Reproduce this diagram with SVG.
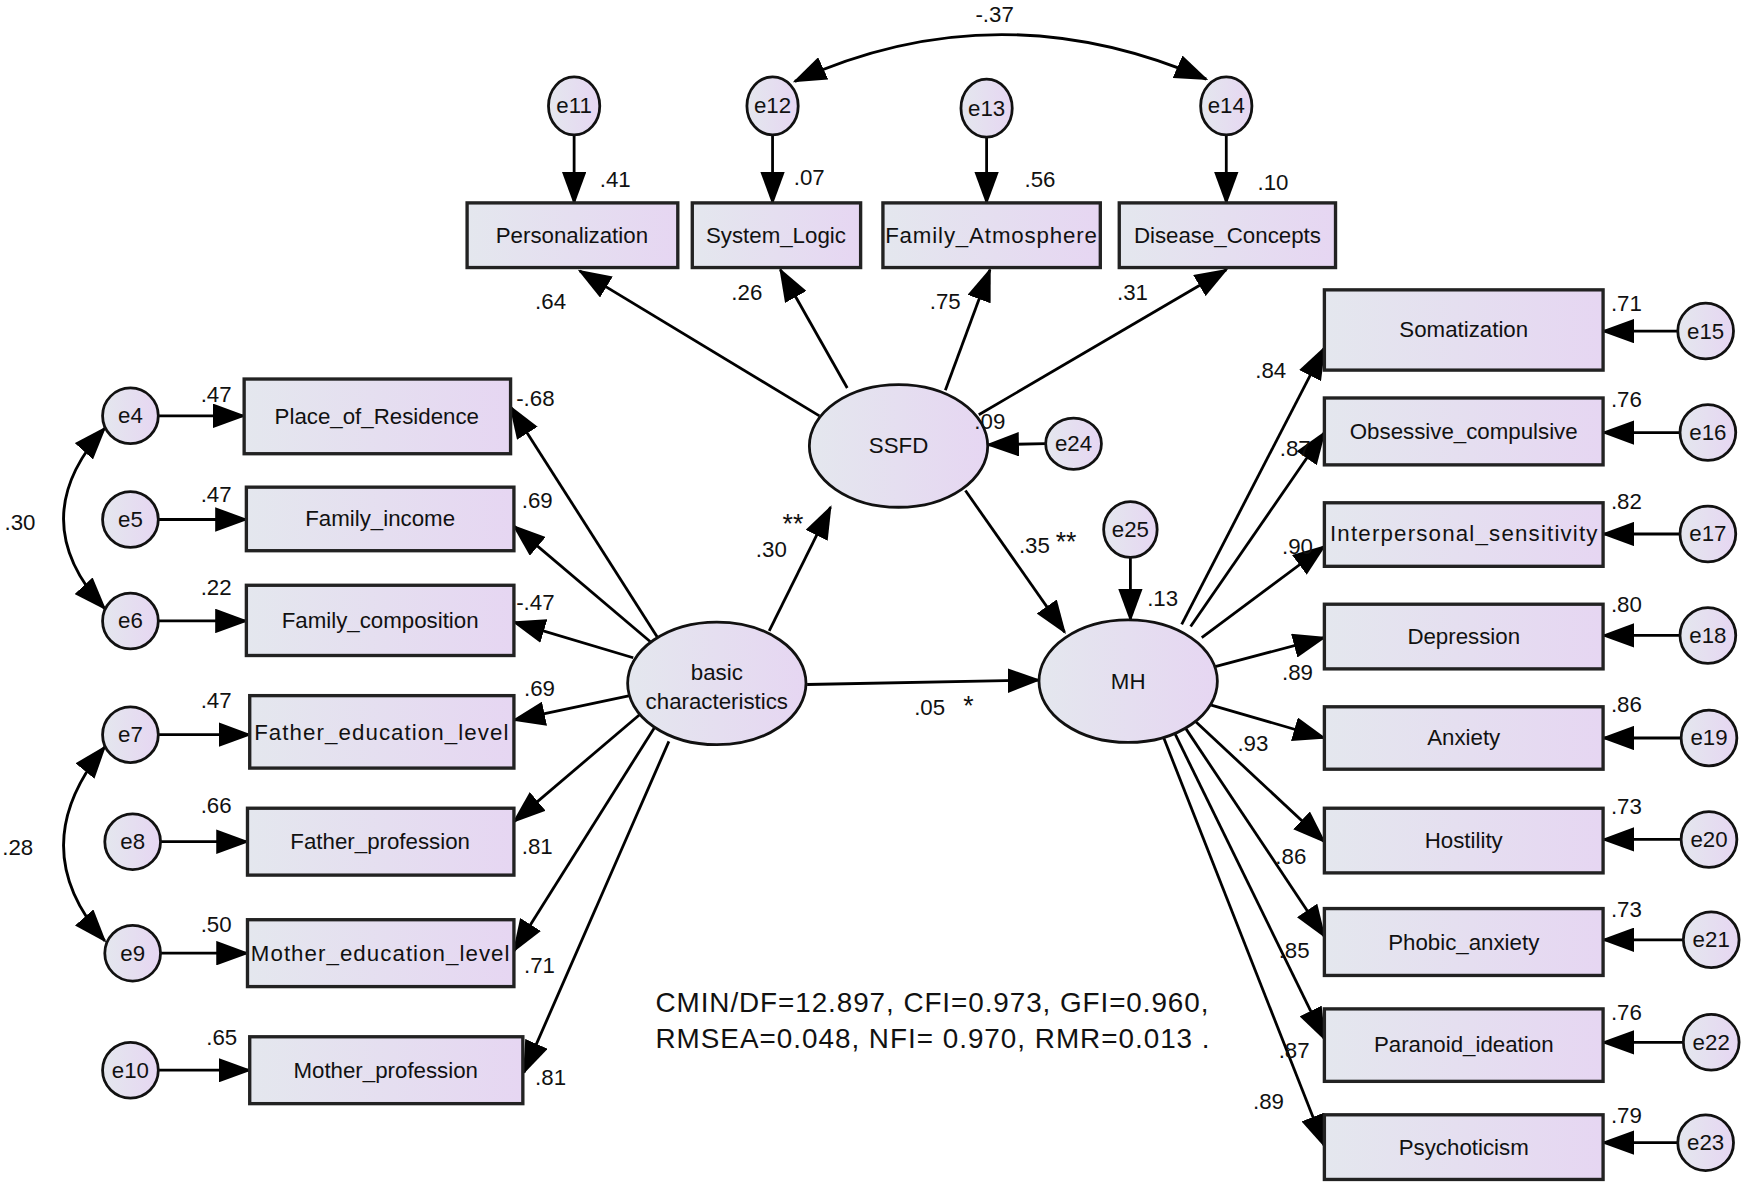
<svg xmlns="http://www.w3.org/2000/svg" width="1748" height="1182" viewBox="0 0 1748 1182">
<defs>
<linearGradient id="g" x1="0" y1="0" x2="1" y2="0"><stop offset="0" stop-color="#e4e7ee"/><stop offset="1" stop-color="#e6d6f2"/></linearGradient>
<marker id="a" markerUnits="userSpaceOnUse" markerWidth="30" markerHeight="22" refX="28" refY="11" orient="auto"><path d="M0,0 L30,11 L0,22 Z" fill="#000"/></marker>
<marker id="s" markerUnits="userSpaceOnUse" markerWidth="30" markerHeight="22" refX="2" refY="11" orient="auto"><path d="M30,0 L0,11 L30,22 Z" fill="#000"/></marker>
<style>
.b{fill:url(#g);stroke:#222;stroke-width:3}
.e{fill:url(#g);stroke:#111;stroke-width:2.5}
.t{font-family:"Liberation Sans",Arial,sans-serif;font-size:20px;fill:#111;text-anchor:middle;dominant-baseline:central}
.n{font-family:"Liberation Sans",Arial,sans-serif;font-size:20px;fill:#111}
.c line,.c path{stroke:#000;stroke-width:2.5;fill:none;marker-end:url(#a)}
.c path.cv{marker-start:url(#s)}
.f{font-family:"Liberation Sans",Arial,sans-serif;font-size:25px;fill:#111}
</style>
</defs>
<rect width="1748" height="1182" fill="#fff"/>
<g transform="scale(1.1148)">
<g class="c">
<line x1="515" y1="121" x2="515" y2="182"/>
<line x1="693" y1="121" x2="693" y2="182"/>
<line x1="885" y1="123" x2="885" y2="182"/>
<line x1="1100" y1="121" x2="1100" y2="182"/>
<path class="cv" d="M713,73 Q895,-10 1082,71"/>
<line x1="735" y1="373" x2="520" y2="243"/>
<line x1="760" y1="348" x2="700" y2="242"/>
<line x1="848" y1="350" x2="888" y2="242"/>
<line x1="878" y1="372" x2="1100" y2="242"/>
<line x1="938" y1="398" x2="886" y2="399"/>
<line x1="690" y1="566" x2="745" y2="455"/>
<line x1="724" y1="614" x2="932" y2="610"/>
<line x1="1014" y1="500" x2="1014" y2="556"/>
<line x1="866" y1="440" x2="955" y2="567"/>
<line x1="590" y1="572" x2="458" y2="365"/>
<line x1="585" y1="577" x2="461" y2="472"/>
<line x1="568" y1="590" x2="461" y2="558"/>
<line x1="565" y1="624" x2="461" y2="646"/>
<line x1="575" y1="640" x2="461" y2="737"/>
<line x1="590" y1="648" x2="461" y2="853"/>
<line x1="600" y1="665" x2="470" y2="962"/>
<line x1="142" y1="373" x2="219" y2="373"/>
<line x1="142" y1="466" x2="221" y2="466"/>
<line x1="142" y1="557" x2="221" y2="557"/>
<line x1="142" y1="659" x2="224" y2="659"/>
<line x1="144" y1="755" x2="222" y2="755"/>
<line x1="144" y1="855" x2="222" y2="855"/>
<line x1="142" y1="960" x2="224" y2="960"/>
<path class="cv" d="M94,384 Q20,466 94,546"/>
<path class="cv" d="M94,670 Q20,760 94,844"/>
<line x1="1060" y1="560" x2="1188" y2="312"/>
<line x1="1068" y1="562" x2="1188" y2="388"/>
<line x1="1078" y1="572" x2="1188" y2="490"/>
<line x1="1090" y1="598" x2="1188" y2="572"/>
<line x1="1085" y1="632" x2="1188" y2="662"/>
<line x1="1070" y1="645" x2="1188" y2="755"/>
<line x1="1060" y1="648" x2="1188" y2="840"/>
<line x1="1050" y1="650" x2="1188" y2="932"/>
<line x1="1040" y1="652" x2="1188" y2="1028"/>
<line x1="1505" y1="297" x2="1438" y2="297"/>
<line x1="1507" y1="388" x2="1438" y2="388"/>
<line x1="1507" y1="479" x2="1438" y2="479"/>
<line x1="1507" y1="570" x2="1438" y2="570"/>
<line x1="1508" y1="662" x2="1438" y2="662"/>
<line x1="1508" y1="753" x2="1438" y2="753"/>
<line x1="1510" y1="843" x2="1438" y2="843"/>
<line x1="1510" y1="935" x2="1438" y2="935"/>
<line x1="1505" y1="1025" x2="1438" y2="1025"/>
</g>
<g id="top-errors">
<g id="e11"><ellipse class="e" cx="515" cy="95" rx="23" ry="26"/><text class="t" x="515" y="95" font-size="18">e11</text></g>
<g id="e12"><ellipse class="e" cx="693" cy="95" rx="23" ry="26"/><text class="t" x="693" y="95" font-size="18">e12</text></g>
<g id="e13"><ellipse class="e" cx="885" cy="97" rx="23" ry="26"/><text class="t" x="885" y="97" font-size="18">e13</text></g>
<g id="e14"><ellipse class="e" cx="1100" cy="95" rx="23" ry="26"/><text class="t" x="1100" y="95" font-size="18">e14</text></g>
</g>
<g id="Personalization"><rect class="b" x="419" y="182" width="189" height="58"/><text class="t" x="513" y="211">Personalization</text></g>
<g id="System_Logic"><rect class="b" x="621" y="182" width="151" height="58"/><text class="t" x="696" y="211">System_Logic</text></g>
<g id="Family_Atmosphere"><rect class="b" x="792" y="182" width="195" height="58"/><text class="t" x="889" y="211" textLength="190">Family_Atmosphere</text></g>
<g id="Disease_Concepts"><rect class="b" x="1004" y="182" width="194" height="58"/><text class="t" x="1101" y="211">Disease_Concepts</text></g>
<g id="SSFD"><ellipse class="e" cx="806" cy="400" rx="80" ry="55"/><text class="t" x="806" y="400" font-size="25">SSFD</text></g>
<g id="e24"><ellipse class="e" cx="963" cy="398" rx="25" ry="23"/><text class="t" x="963" y="398" font-size="18">e24</text></g>
<g id="basic"><ellipse class="e" cx="643" cy="613" rx="80" ry="55"/><text class="t" x="643" y="603" font-size="19">basic</text><text class="t" x="643" y="629" font-size="19">characteristics</text></g>
<g id="MH"><ellipse class="e" cx="1012" cy="611" rx="80" ry="55"/><text class="t" x="1012" y="611" font-size="25">MH</text></g>
<g id="e25"><ellipse class="e" cx="1014" cy="475" rx="24" ry="25"/><text class="t" x="1014" y="475" font-size="18">e25</text></g>
<g id="left-boxes">
<g id="Place_of_Residence"><rect class="b" x="219" y="340" width="239" height="67"/><text class="t" x="338" y="374">Place_of_Residence</text></g>
<g id="Family_income"><rect class="b" x="221" y="437" width="240" height="57"/><text class="t" x="341" y="465">Family_income</text></g>
<g id="Family_composition"><rect class="b" x="221" y="525" width="240" height="63"/><text class="t" x="341" y="557">Family_composition</text></g>
<g id="Father_education_level"><rect class="b" x="224" y="624" width="237" height="65"/><text class="t" x="342" y="657" textLength="228">Father_education_level</text></g>
<g id="Father_profession"><rect class="b" x="222" y="725" width="239" height="60"/><text class="t" x="341" y="755">Father_profession</text></g>
<g id="Mother_education_level"><rect class="b" x="222" y="825" width="239" height="60"/><text class="t" x="341" y="855" textLength="232">Mother_education_level</text></g>
<g id="Mother_profession"><rect class="b" x="224" y="930" width="245" height="60"/><text class="t" x="346" y="960">Mother_profession</text></g>
</g>
<g id="left-errors">
<g id="e4"><circle class="e" cx="117" cy="373" r="25"/><text class="t" x="117" y="373" font-size="18">e4</text></g>
<g id="e5"><circle class="e" cx="117" cy="466" r="25"/><text class="t" x="117" y="466" font-size="18">e5</text></g>
<g id="e6"><circle class="e" cx="117" cy="557" r="25"/><text class="t" x="117" y="557" font-size="18">e6</text></g>
<g id="e7"><circle class="e" cx="117" cy="659" r="25"/><text class="t" x="117" y="659" font-size="18">e7</text></g>
<g id="e8"><circle class="e" cx="119" cy="755" r="25"/><text class="t" x="119" y="755" font-size="18">e8</text></g>
<g id="e9"><circle class="e" cx="119" cy="855" r="25"/><text class="t" x="119" y="855" font-size="18">e9</text></g>
<g id="e10"><circle class="e" cx="117" cy="960" r="25"/><text class="t" x="117" y="960" font-size="18">e10</text></g>
</g>
<g id="right-boxes">
<g id="Somatization"><rect class="b" x="1188" y="260" width="250" height="72"/><text class="t" x="1313" y="296">Somatization</text></g>
<g id="Obsessive_compulsive"><rect class="b" x="1188" y="357" width="250" height="60"/><text class="t" x="1313" y="387">Obsessive_compulsive</text></g>
<g id="Interpersonal_sensitivity"><rect class="b" x="1188" y="451" width="250" height="57"/><text class="t" x="1313" y="479" textLength="240">Interpersonal_sensitivity</text></g>
<g id="Depression"><rect class="b" x="1188" y="542" width="250" height="58"/><text class="t" x="1313" y="571">Depression</text></g>
<g id="Anxiety"><rect class="b" x="1188" y="634" width="250" height="56"/><text class="t" x="1313" y="662">Anxiety</text></g>
<g id="Hostility"><rect class="b" x="1188" y="725" width="250" height="58"/><text class="t" x="1313" y="754">Hostility</text></g>
<g id="Phobic_anxiety"><rect class="b" x="1188" y="815" width="250" height="60"/><text class="t" x="1313" y="845">Phobic_anxiety</text></g>
<g id="Paranoid_ideation"><rect class="b" x="1188" y="905" width="250" height="65"/><text class="t" x="1313" y="937">Paranoid_ideation</text></g>
<g id="Psychoticism"><rect class="b" x="1188" y="1000" width="250" height="58"/><text class="t" x="1313" y="1029">Psychoticism</text></g>
</g>
<g id="right-errors">
<g id="e15"><circle class="e" cx="1530" cy="297" r="25"/><text class="t" x="1530" y="297" font-size="18">e15</text></g>
<g id="e16"><circle class="e" cx="1532" cy="388" r="25"/><text class="t" x="1532" y="388" font-size="18">e16</text></g>
<g id="e17"><circle class="e" cx="1532" cy="479" r="25"/><text class="t" x="1532" y="479" font-size="18">e17</text></g>
<g id="e18"><circle class="e" cx="1532" cy="570" r="25"/><text class="t" x="1532" y="570" font-size="18">e18</text></g>
<g id="e19"><circle class="e" cx="1533" cy="662" r="25"/><text class="t" x="1533" y="662" font-size="18">e19</text></g>
<g id="e20"><circle class="e" cx="1533" cy="753" r="25"/><text class="t" x="1533" y="753" font-size="18">e20</text></g>
<g id="e21"><circle class="e" cx="1535" cy="843" r="25"/><text class="t" x="1535" y="843" font-size="18">e21</text></g>
<g id="e22"><circle class="e" cx="1535" cy="935" r="25"/><text class="t" x="1535" y="935" font-size="18">e22</text></g>
<g id="e23"><circle class="e" cx="1530" cy="1025" r="25"/><text class="t" x="1530" y="1025" font-size="18">e23</text></g>
</g>
<g id="labels" class="n">
<text x="538" y="168">.41</text><text x="712" y="166">.07</text><text x="919" y="168">.56</text><text x="1128" y="170">.10</text>
<text x="875" y="20">-.37</text>
<text x="480" y="277">.64</text><text x="656" y="269">.26</text><text x="834" y="277">.75</text><text x="1002" y="269">.31</text>
<text x="874" y="385">.09</text>
<text x="678" y="500">.30</text><text x="702" y="478" font-size="24">**</text>
<text x="820" y="641">.05</text><text x="864" y="641" font-size="24">*</text>
<text x="1029" y="544">.13</text>
<text x="914" y="496">.35</text><text x="947" y="494" font-size="24">**</text>
<text x="463" y="364">-.68</text><text x="468" y="456">.69</text><text x="463" y="547">-.47</text><text x="470" y="624">.69</text><text x="468" y="766">.81</text><text x="470" y="873">.71</text><text x="480" y="973">.81</text>
<text x="180" y="361">.47</text><text x="180" y="450">.47</text><text x="180" y="534">.22</text><text x="180" y="635">.47</text><text x="180" y="729">.66</text><text x="180" y="836">.50</text><text x="185" y="937">.65</text>
<text x="4" y="475">.30</text><text x="2" y="767">.28</text>
<text x="1445" y="279">.71</text><text x="1445" y="365">.76</text><text x="1445" y="457">.82</text><text x="1445" y="549">.80</text><text x="1445" y="639">.86</text><text x="1445" y="730">.73</text><text x="1445" y="823">.73</text><text x="1445" y="915">.76</text><text x="1445" y="1007">.79</text>
<text x="1126" y="339">.84</text><text x="1148" y="409">.87</text><text x="1150" y="497">.90</text><text x="1150" y="610">.89</text><text x="1110" y="674">.93</text><text x="1144" y="775">.86</text><text x="1147" y="859">.85</text><text x="1147" y="949">.87</text><text x="1124" y="995">.89</text>
</g>
<g id="fit" class="f">
<text x="588" y="908" textLength="496">CMIN/DF=12.897, CFI=0.973, GFI=0.960,</text>
<text x="588" y="940" textLength="497">RMSEA=0.048, NFI= 0.970, RMR=0.013 .</text>
</g>
</g>
</svg>
